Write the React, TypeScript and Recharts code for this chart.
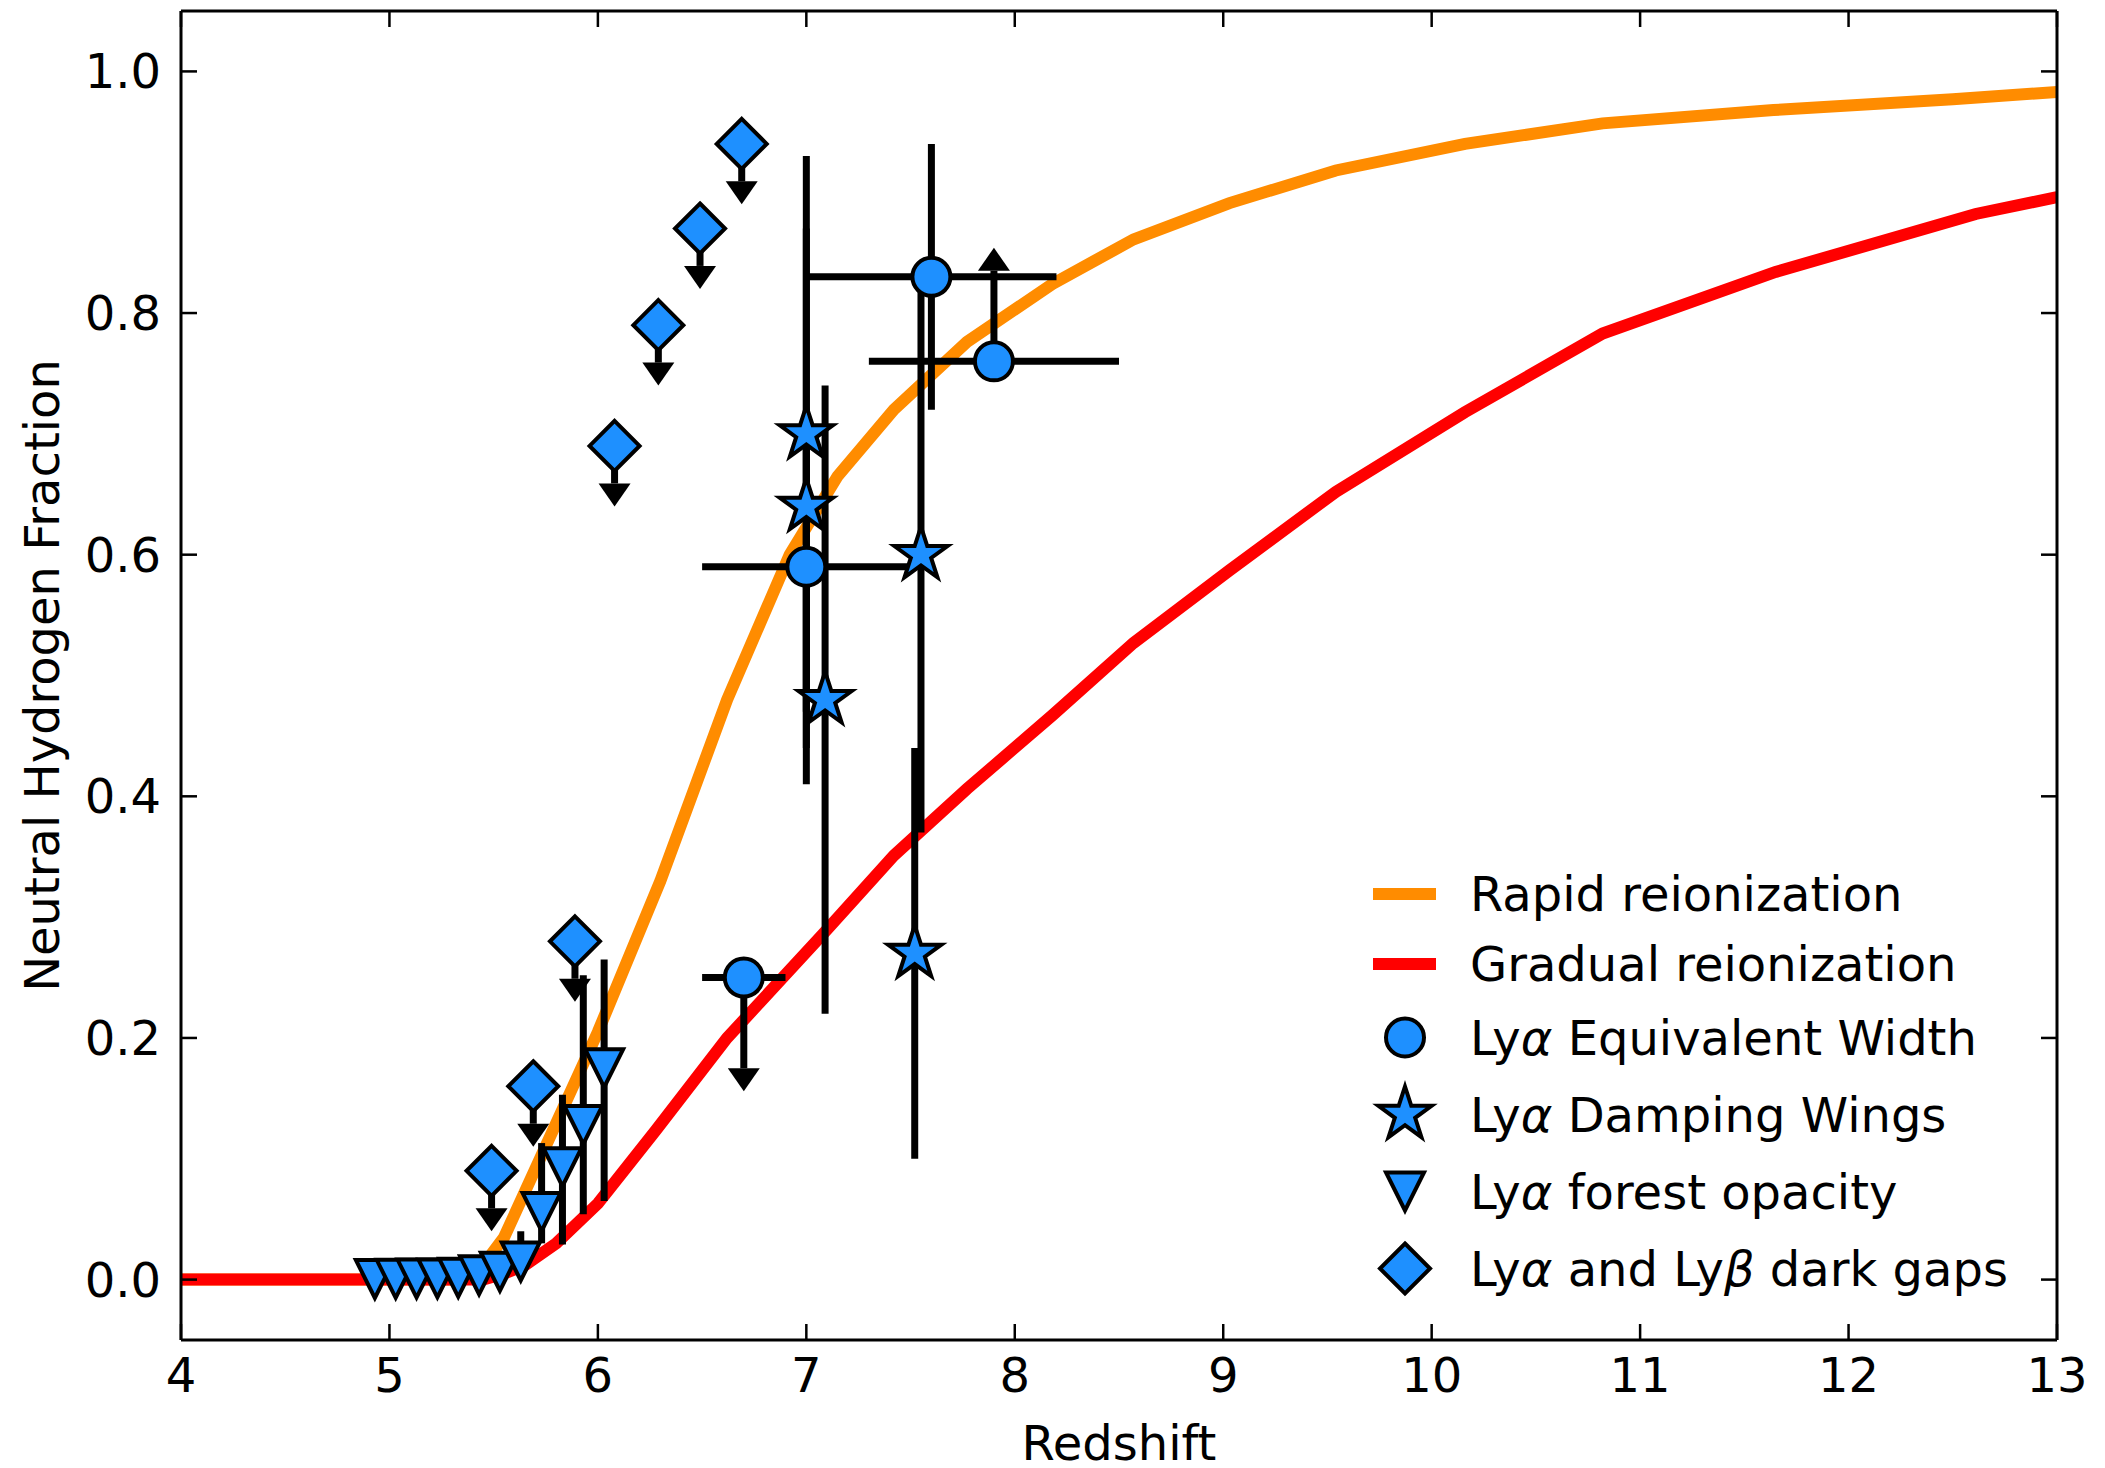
import React from "react";
import { ComposedChart, Line, Scatter, XAxis, YAxis, ErrorBar, Legend } from "recharts";

const BLUE = "#1E90FF";
const ORANGE = "#FF8C00";
const RED = "#FF0000";
const FONT = "'DejaVu Sans', sans-serif";
const FS = 48;

// reionization histories
const rapidZ = [4.0, 5.3, 5.45, 5.55, 6.0, 6.3, 6.62, 6.92, 7.15, 7.42, 7.77, 8.18, 8.57, 9.03, 9.54, 10.16, 10.82, 11.64, 12.5, 13.0];
const rapidXHI = [0, 0, 0.012, 0.035, 0.205, 0.33, 0.48, 0.6, 0.665, 0.72, 0.776, 0.824, 0.861, 0.891, 0.918, 0.94, 0.957, 0.968, 0.977, 0.983];
const gradualZ = [4.0, 5.45, 5.55, 5.65, 5.8, 6.0, 6.28, 6.62, 7.08, 7.42, 7.77, 8.18, 8.57, 9.03, 9.54, 10.16, 10.82, 11.65, 12.61, 13.0];
const gradualXHI = [0, 0, 0.005, 0.012, 0.03, 0.063, 0.124, 0.2, 0.286, 0.351, 0.406, 0.467, 0.527, 0.587, 0.652, 0.718, 0.783, 0.834, 0.882, 0.896];

// Lya equivalent width
const ewZ = [7.6, 7.9, 7.0, 6.7];
const ewXHI = [0.83, 0.76, 0.59, 0.25];
const ewErrLo = [0.11, 0, 0.15, 0.075];
const ewErrHi = [0.11, 0.075, 0.11, 0];
const ewZErr = [0.6, 0.6, 0.5, 0.2];
const ewLimit = ["", "lower", "", "upper"];

// Lya damping wings
const dwZ = [7.0, 7.0, 7.09, 7.55, 7.52];
const dwXHI = [0.7, 0.64, 0.48, 0.6, 0.27];
const dwErrLo = [0.23, 0.23, 0.26, 0.23, 0.17];
const dwErrHi = [0.23, 0.23, 0.26, 0.22, 0.17];

// Lya forest opacity
const forestZ = [4.93, 5.03, 5.13, 5.23, 5.33, 5.43, 5.53, 5.63, 5.73, 5.83, 5.93, 6.03];
const forestXHI = [0.0005, 0.0006, 0.0008, 0.001, 0.0015, 0.0035, 0.0065, 0.015, 0.056, 0.093, 0.128, 0.175];
const forestErrLo = [0, 0, 0, 0, 0, 0, 0, 0.01, 0.026, 0.064, 0.074, 0.11];
const forestErrHi = [0, 0, 0, 0, 0, 0, 0, 0.025, 0.057, 0.06, 0.124, 0.09];

// Lya and Lyb dark gaps (upper limits)
const gapZ = [5.49, 5.69, 5.89, 6.08, 6.29, 6.49, 6.69];
const gapXHI = [0.09, 0.16, 0.28, 0.69, 0.79, 0.87, 0.94];
const gapArrow = 0.031;

const xTicks = [4, 5, 6, 7, 8, 9, 10, 11, 12, 13];
const yTicks = [0, 0.2, 0.4, 0.6, 0.8, 1.0];

const legendItems = [
  { kind: "line", color: ORANGE, label: <>Rapid reionization</> },
  { kind: "line", color: RED, label: <>Gradual reionization</> },
  { kind: "circle", label: <>Ly<i>α</i> Equivalent Width</> },
  { kind: "star", label: <>Ly<i>α</i> Damping Wings</> },
  { kind: "tri", label: <>Ly<i>α</i> forest opacity</> },
  { kind: "diamond", label: <>Ly<i>α</i> and Ly<i>β</i> dark gaps</> },
];

const rapidData = rapidZ.map((z, i) => ({ x: z, y: rapidXHI[i] }));
const gradualData = gradualZ.map((z, i) => ({ x: z, y: gradualXHI[i] }));
const ewData = ewZ.map((z, i) => ({ x: z, y: ewXHI[i], yErr: [ewErrLo[i], ewErrHi[i]], xErr: ewZErr[i] }));
const dwData = dwZ.map((z, i) => ({ x: z, y: dwXHI[i], yErr: [dwErrLo[i], dwErrHi[i]] }));
const forestData = forestZ.map((z, i) => ({ x: z, y: forestXHI[i], yErr: [forestErrLo[i], forestErrHi[i]] }));
const gapData = gapZ.map((z, i) => ({ x: z, y: gapXHI[i], yErr: [gapArrow, 0] }));

const arrowData = [
  ...ewZ.flatMap((z, i) =>
    ewLimit[i] === "upper"
      ? [{ x: z, y: ewXHI[i] - ewErrLo[i], dir: "down" }]
      : ewLimit[i] === "lower"
        ? [{ x: z, y: ewXHI[i] + ewErrHi[i], dir: "up" }]
        : []
  ),
  ...gapZ.map((z, i) => ({ x: z, y: gapXHI[i] - gapArrow, dir: "down" })),
];

const EDGE = 4;

function starPath(cx: number, cy: number, R: number) {
  const r = R * 0.381966;
  const pts: string[] = [];
  for (let k = 0; k < 10; k++) {
    const a = ((-90 + k * 36) * Math.PI) / 180;
    const rad = k % 2 === 0 ? R : r;
    pts.push(`${cx + rad * Math.cos(a)},${cy + rad * Math.sin(a)}`);
  }
  return `M${pts.join("L")}Z`;
}

const Marker = ({ kind, cx, cy }: { kind: string; cx: number; cy: number }) => {
  if (cx == null || cy == null || isNaN(cx) || isNaN(cy)) return null;
  const common = { fill: BLUE, stroke: "#000", strokeWidth: EDGE, strokeLinejoin: "miter" as const };
  if (kind === "circle") return <circle cx={cx} cy={cy} r={19} {...common} />;
  if (kind === "star") return <path d={starPath(cx, cy, 28)} {...common} />;
  if (kind === "tri")
    return <polygon points={`${cx - 19},${cy - 19} ${cx + 19},${cy - 19} ${cx},${cy + 19}`} {...common} />;
  const d = 25;
  return <polygon points={`${cx},${cy - d} ${cx + d},${cy} ${cx},${cy + d} ${cx - d},${cy}`} {...common} />;
};

const ArrowHead = (props: any) => {
  const { cx, cy, payload } = props;
  if (cx == null || cy == null) return null;
  const s = payload.dir === "up" ? -1 : 1;
  return <polygon points={`${cx - 16},${cy} ${cx + 16},${cy} ${cx},${cy + s * 23}`} fill="#000" />;
};

const YLabel = (props: any) => {
  const vb = props.viewBox;
  const cy = vb.y + vb.height / 2;
  const x = 59;
  return (
    <text x={x} y={cy} transform={`rotate(-90 ${x} ${cy})`} textAnchor="middle" fontSize={FS} fontFamily={FONT} fill="#000">
      Neutral Hydrogen Fraction
    </text>
  );
};

// tick renderer that draws no label, so only the (inward) tick line is shown
const NoLabel = () => <g />;

const LegendBox = () => (
  <div style={{ fontFamily: FONT, fontSize: FS, color: "#000" }}>
    {legendItems.map((item, i) => {
      const h = item.kind === "line" ? 70 : 77;
      return (
        <div key={i} style={{ display: "flex", alignItems: "center", height: h, lineHeight: 1, whiteSpace: "nowrap" }}>
          <svg width={90} height={h} style={{ overflow: "visible" }}>
            {item.kind === "line" ? (
              <line x1={13} x2={76} y1={h / 2} y2={h / 2} stroke={item.color} strokeWidth={12} />
            ) : (
              <Marker kind={item.kind} cx={45} cy={h / 2} />
            )}
          </svg>
          <span style={{ marginLeft: 20 }}>{item.label}</span>
        </div>
      );
    })}
  </div>
);

const axisLine = { stroke: "#000", strokeWidth: 3 };
const tickLine = { stroke: "#000", strokeWidth: 2.5 };
const tickStyle = { fill: "#000", fontSize: FS, fontFamily: FONT };
const errStyle = { stroke: "#000", strokeWidth: 7, width: 0, isAnimationActive: false };

export default function App() {
  return (
    <div style={{ position: "absolute", left: 0, top: 0, width: 2105, height: 1468, background: "#fff" }}>
      <ComposedChart width={2105} height={1468} margin={{ top: 11, right: 48, left: 51, bottom: 0 }}>
        {/* inward tick marks (mirrored axes, declared before the labelled ones) */}
        <XAxis xAxisId="bIn" orientation="bottom" mirror dataKey="x" type="number" domain={[4, 13]} ticks={xTicks} interval={0} allowDataOverflow height={1} tickSize={16} tick={NoLabel} axisLine={false} tickLine={tickLine} />
        <XAxis xAxisId="top" orientation="top" mirror dataKey="x" type="number" domain={[4, 13]} ticks={xTicks} interval={0} allowDataOverflow height={1} tickSize={16} tick={NoLabel} axisLine={axisLine} tickLine={tickLine} />
        <YAxis yAxisId="lIn" orientation="left" mirror type="number" domain={[-0.05, 1.05]} ticks={yTicks} interval={0} allowDataOverflow width={1} tickSize={16} tick={NoLabel} axisLine={false} tickLine={tickLine} />
        <YAxis yAxisId="right" orientation="right" mirror type="number" domain={[-0.05, 1.05]} ticks={yTicks} interval={0} allowDataOverflow width={1} tickSize={16} tick={NoLabel} axisLine={axisLine} tickLine={tickLine} />

        <XAxis
          dataKey="x"
          type="number"
          domain={[4, 13]}
          ticks={xTicks}
          interval={0}
          allowDataOverflow
          height={128}
          tickSize={0}
          tickMargin={18}
          axisLine={axisLine}
          tickLine={false}
          tick={tickStyle}
          label={{ value: "Redshift", position: "insideBottom", offset: 8, fill: "#000", fontSize: FS, fontFamily: FONT }}
        />
        <YAxis
          type="number"
          domain={[-0.05, 1.05]}
          ticks={yTicks}
          interval={0}
          allowDataOverflow
          width={130}
          tickSize={0}
          tickMargin={20}
          tickFormatter={(v: number) => v.toFixed(1)}
          axisLine={axisLine}
          tickLine={false}
          tick={tickStyle}
          label={{ content: YLabel }}
        />
        <Legend
          content={() => <LegendBox />}
          align="center"
          verticalAlign="middle"
          layout="vertical"
          wrapperStyle={{ left: 1360, top: 859, width: 720, height: 460 }}
        />

        <Line data={rapidData} dataKey="y" name="Rapid reionization" type="linear" stroke={ORANGE} strokeWidth={12} dot={false} activeDot={false} isAnimationActive={false} />
        <Line data={gradualData} dataKey="y" name="Gradual reionization" type="linear" stroke={RED} strokeWidth={12} dot={false} activeDot={false} isAnimationActive={false} />

        <Scatter data={ewData} dataKey="y" name="EW" isAnimationActive={false} shape={(p: any) => <Marker kind="circle" cx={p.cx} cy={p.cy} />}>
          <ErrorBar dataKey="yErr" direction="y" {...errStyle} />
          <ErrorBar dataKey="xErr" direction="x" {...errStyle} />
        </Scatter>
        <Scatter data={dwData} dataKey="y" name="DW" isAnimationActive={false} shape={(p: any) => <Marker kind="star" cx={p.cx} cy={p.cy} />}>
          <ErrorBar dataKey="yErr" direction="y" {...errStyle} />
        </Scatter>
        <Scatter data={forestData} dataKey="y" name="Forest" isAnimationActive={false} shape={(p: any) => <Marker kind="tri" cx={p.cx} cy={p.cy} />}>
          <ErrorBar dataKey="yErr" direction="y" {...errStyle} />
        </Scatter>
        <Scatter data={gapData} dataKey="y" name="Gaps" isAnimationActive={false} shape={(p: any) => <Marker kind="diamond" cx={p.cx} cy={p.cy} />}>
          <ErrorBar dataKey="yErr" direction="y" {...errStyle} />
        </Scatter>
        <Scatter data={arrowData} dataKey="y" name="limits" isAnimationActive={false} shape={ArrowHead} />
      </ComposedChart>
    </div>
  );
}
